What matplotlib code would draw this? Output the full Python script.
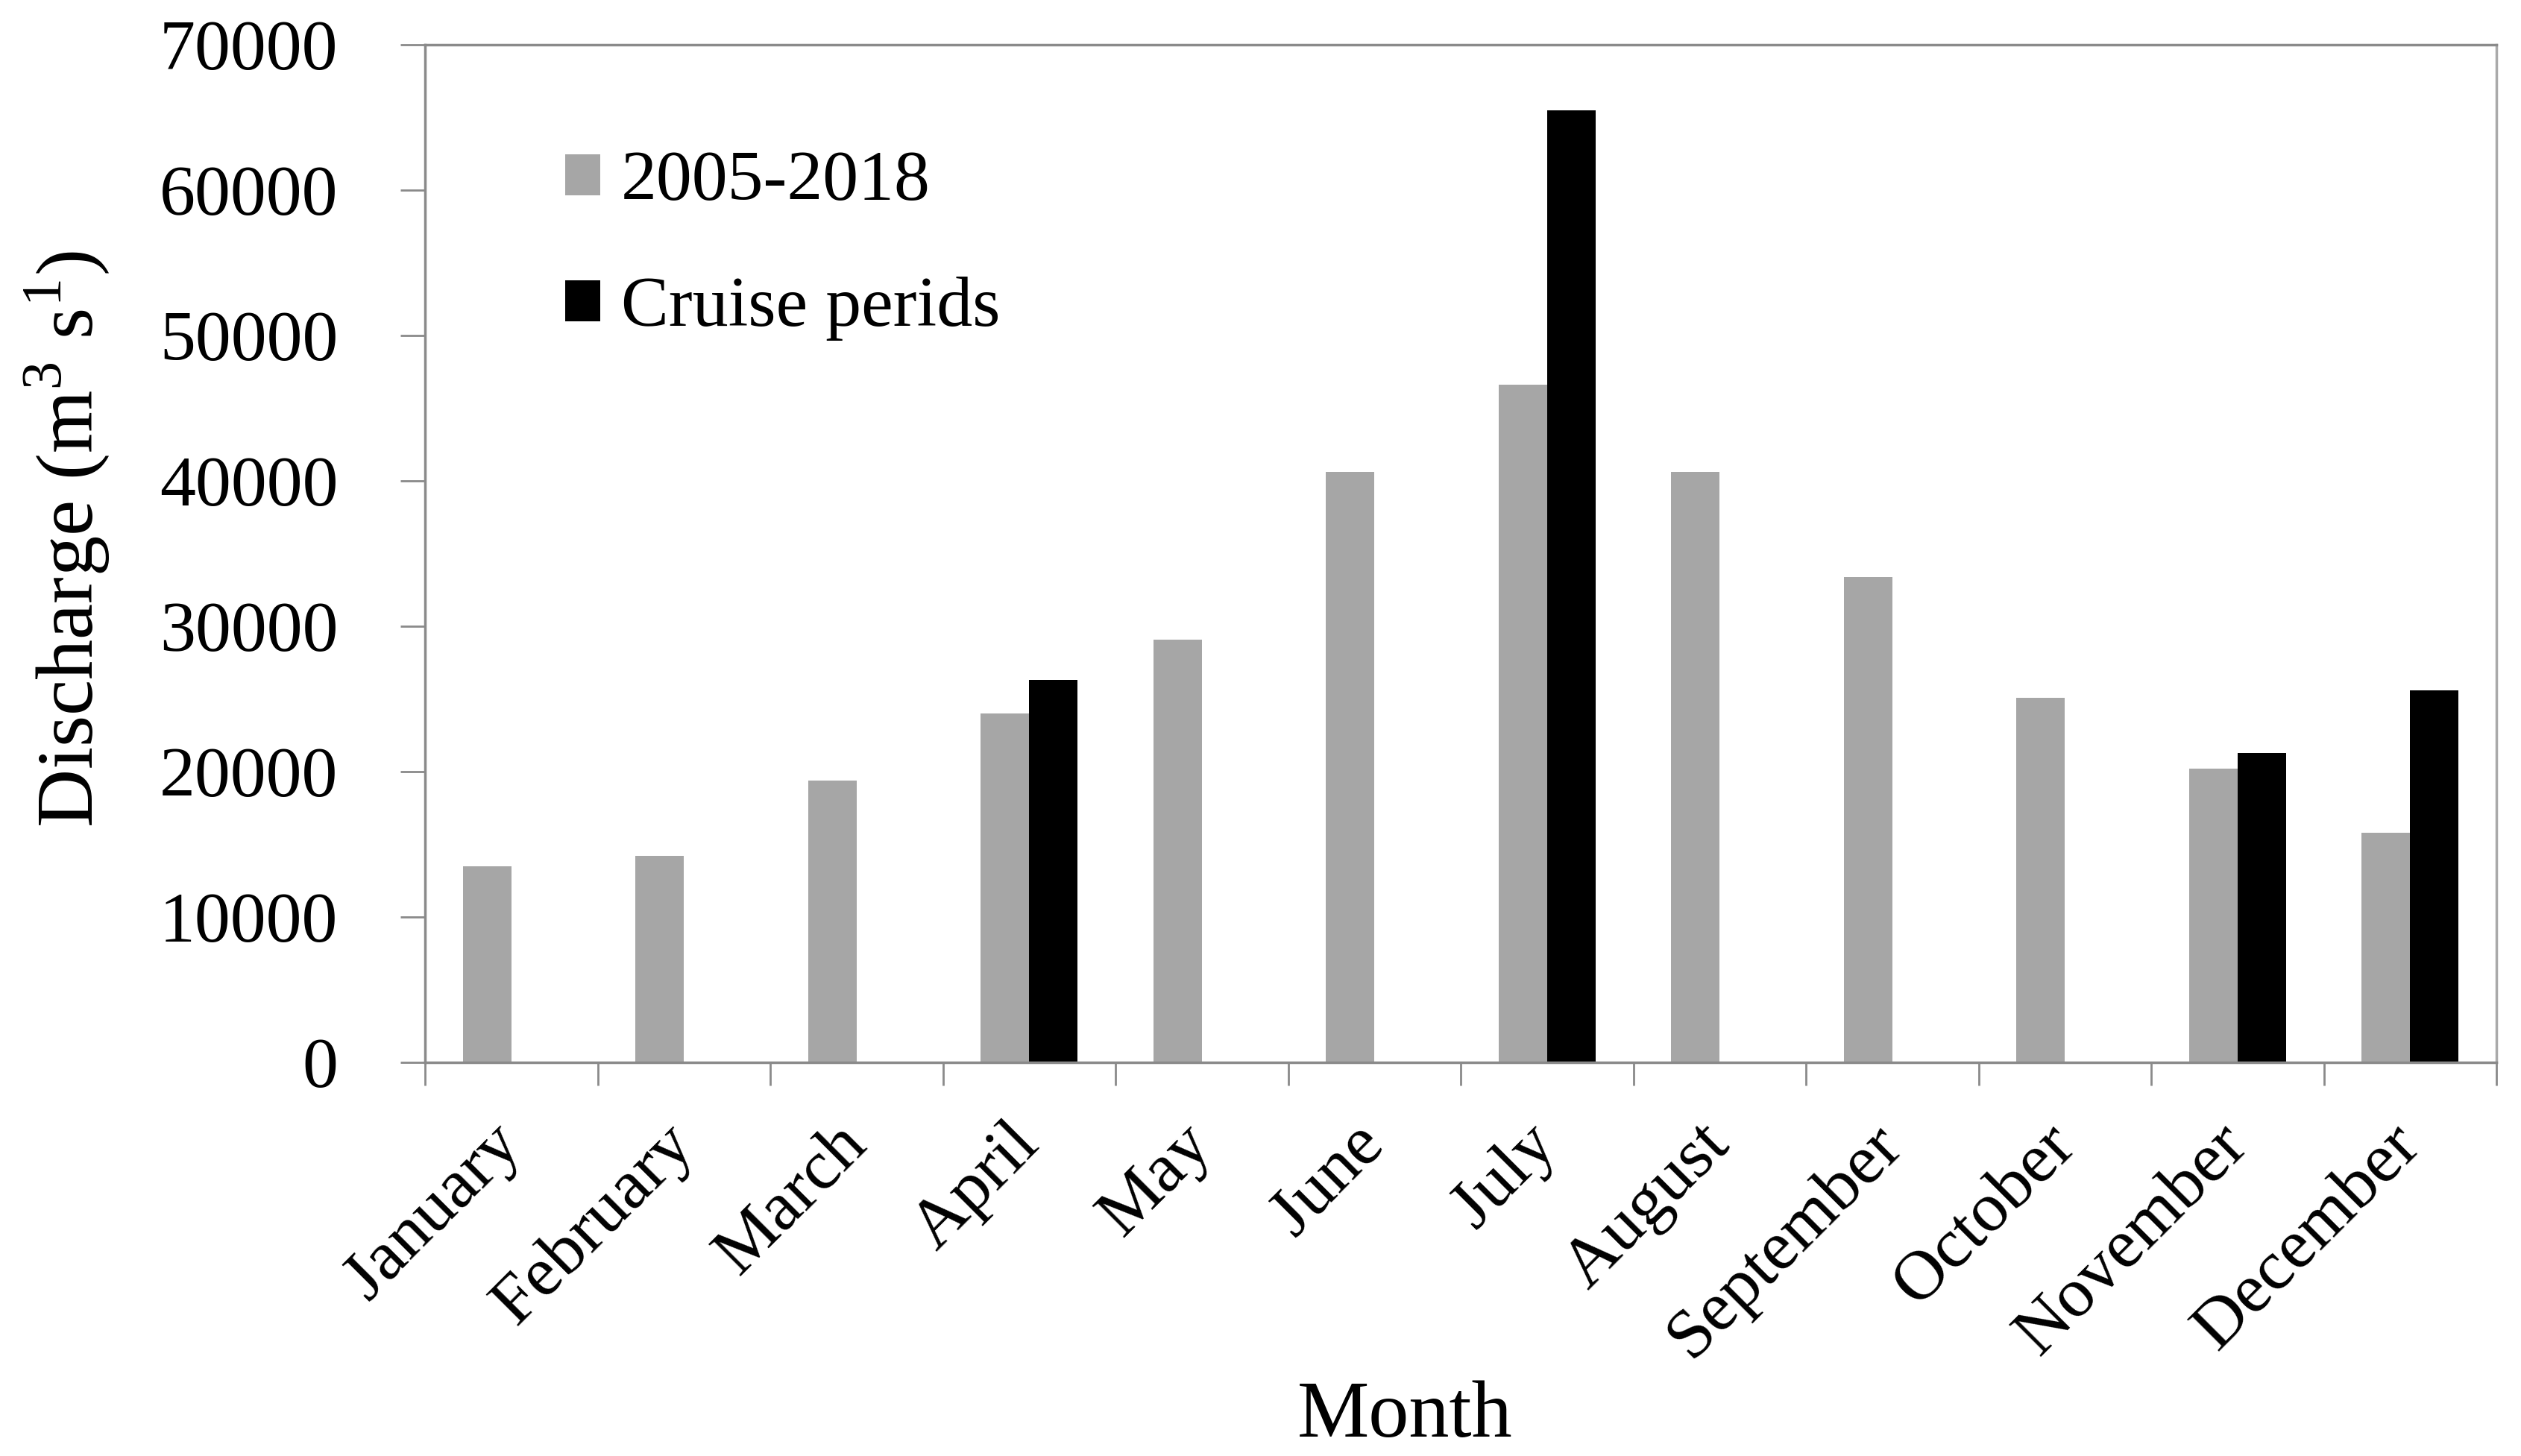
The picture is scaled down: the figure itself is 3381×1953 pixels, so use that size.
import numpy as np
import matplotlib
matplotlib.use("Agg")
import matplotlib.pyplot as plt
from matplotlib.patches import Patch
from matplotlib.ticker import FixedLocator, NullFormatter

plt.rcParams['font.family'] = ['Liberation Serif', 'DejaVu Serif']
plt.rcParams['mathtext.fontset'] = 'custom'
plt.rcParams['mathtext.rm'] = 'Liberation Serif'

months = ["January", "February", "March", "April", "May", "June", "July",
          "August", "September", "October", "November", "December"]
avg_2005_2018 = [13500, 14200, 19400, 24000, 29100, 40600, 46600, 40600,
                 33400, 25100, 20200, 15800]
cruise_periods = [np.nan, np.nan, np.nan, 26300, np.nan, np.nan, 65500,
                  np.nan, np.nan, np.nan, 21300, 25600]
y_ticks = [0, 10000, 20000, 30000, 40000, 50000, 60000, 70000]
legend_labels = ["2005-2018", "Cruise perids"]

W, H = 3381, 1953
fig = plt.figure(figsize=(W / 100, H / 100), dpi=100)
L, R, T, B = 570, 3348, 60, 1425
ax = fig.add_axes([L / W, 1 - B / H, (R - L) / W, (B - T) / H])

grey = '#a6a6a6'
x = np.arange(len(months))
bw = 0.28
ax.bar(x - bw / 2, avg_2005_2018, bw, color=grey, linewidth=0)
ax.bar(x + bw / 2, cruise_periods, bw, color='black', linewidth=0)

ax.set_xlim(-0.5, len(months) - 0.5)
ax.set_ylim(0, 70000)

spine_c = '#8a8a8a'
for s in ['left', 'bottom', 'top', 'right']:
    ax.spines[s].set_color(spine_c)
    ax.spines[s].set_linewidth(2.5)
ax.spines['right'].set_color('#aaaaaa')

ax.set_yticks(y_ticks)
ax.set_yticklabels([str(v) for v in y_ticks])
ax.tick_params(axis='y', direction='out', length=24, width=2, color=spine_c,
               labelsize=69, pad=60)

ax.xaxis.set_major_locator(FixedLocator(np.arange(-0.5, len(months), 1.0)))
ax.xaxis.set_major_formatter(NullFormatter())
ax.xaxis.set_minor_locator(FixedLocator(x))
ax.set_xticks(x, minor=True)
ax.set_xticklabels(months, minor=True, rotation=45, ha='right',
                   rotation_mode='anchor', va='center')
ax.tick_params(axis='x', which='major', direction='out', length=22, width=2,
               color=spine_c)
ax.tick_params(axis='x', which='minor', length=0, labelsize=68, pad=70)

ax.set_ylabel(r"Discharge (m$^{\mathrm{3}}$ s$^{\mathrm{1}}$)", fontsize=78,
              va='center')
ax.yaxis.set_label_coords(-0.173, 0.514)
ax.set_xlabel("Month", fontsize=78, va='baseline')
ax.xaxis.set_label_coords(0.473, -0.368)

handles = [Patch(facecolor=grey, edgecolor='none'),
           Patch(facecolor='black', edgecolor='none')]
ax.legend(handles, legend_labels, loc='upper left',
          bbox_to_anchor=(0.0677, 0.896), frameon=False, fontsize=69,
          handlelength=0.49, handleheight=0.5, handletextpad=0.29,
          labelspacing=0.86, borderpad=0, borderaxespad=0)

fig.savefig("out.png", dpi=100, facecolor='white')
